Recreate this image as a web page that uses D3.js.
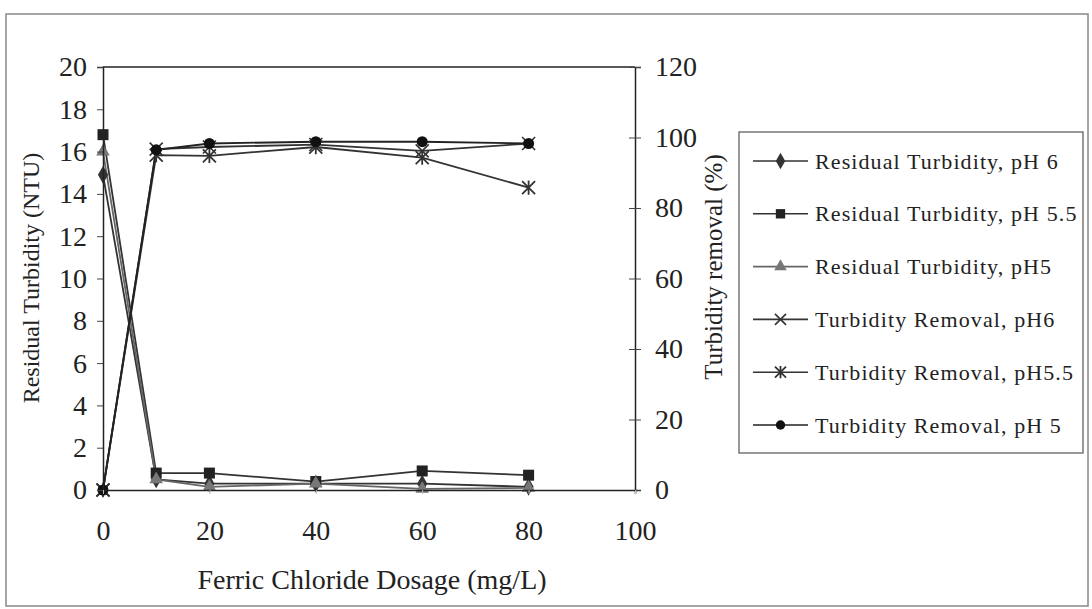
<!DOCTYPE html>
<html><head><meta charset="utf-8">
<script src="https://cdn.jsdelivr.net/npm/d3@7/dist/d3.min.js"></script>
<style>body{margin:0;background:#fff}svg{display:block}text{font-family:"Liberation Serif","Times New Roman",serif;fill:#222}</style>
</head><body><svg id="c" width="1092" height="609"></svg>
<script>
const dosage = [0, 10, 20, 40, 60, 80];
const residualPH6 = [14.9, 0.5, 0.3, 0.3, 0.3, 0.15];
const residualPH55 = [16.8, 0.8, 0.8, 0.4, 0.9, 0.7];
const residualPH5 = [16.0, 0.5, 0.15, 0.3, 0.05, 0.1];
const removalPH6 = [0, 96.7, 97.3, 98.0, 96.2, 98.3];
const removalPH55 = [0, 95.0, 94.8, 97.3, 94.3, 85.8];
const removalPH5 = [0, 96.5, 98.3, 98.8, 98.8, 98.3];
const xTicks = [0, 20, 40, 60, 80, 100];
const yLeftTicks = [0, 2, 4, 6, 8, 10, 12, 14, 16, 18, 20];
const yRightTicks = [0, 20, 40, 60, 80, 100, 120];
const legendLabels = ["Residual Turbidity, pH 6", "Residual Turbidity, pH 5.5", "Residual Turbidity, pH5",
  "Turbidity Removal, pH6", "Turbidity Removal, pH5.5", "Turbidity Removal, pH 5"];

const svg = d3.select("#c");
const L = 103, R = 635, T = 67, B = 490;
const x = d3.scaleLinear().domain([0, 100]).range([L, R]);
const yL = d3.scaleLinear().domain([0, 20]).range([B, T]);
const yR = d3.scaleLinear().domain([0, 120]).range([B, T]);

// outer frame
svg.append("rect").attr("x", 6).attr("y", 14).attr("width", 1082).attr("height", 592)
  .attr("fill", "none").attr("stroke", "#888").attr("stroke-width", 1.5);

// plot frame top
svg.append("line").attr("x1", L).attr("x2", R).attr("y1", T).attr("y2", T).attr("stroke", "#222").attr("stroke-width", 1.5);

const series = [
  {vals: residualPH6, y: yL, sym: "diamond", color: "#333", mfill: "#333"},
  {vals: residualPH55, y: yL, sym: "square", color: "#333", mfill: "#222"},
  {vals: residualPH5, y: yL, sym: "triangle", color: "#666", mfill: "#777"},
  {vals: removalPH6, y: yR, sym: "x", color: "#333", mfill: "none"},
  {vals: removalPH55, y: yR, sym: "star", color: "#333", mfill: "none"},
  {vals: removalPH5, y: yR, sym: "circle", color: "#222", mfill: "#111"}
];

function drawMarker(g, sym, cx, cy, color, fill, s) {
  s = s || 1;
  if (sym === "diamond") g.append("path").attr("d", d3.symbol(d3.symbolDiamond, 90 * s)()).attr("transform", `translate(${cx},${cy})`).attr("fill", fill);
  else if (sym === "square") g.append("rect").attr("x", cx - 5.5 * s).attr("y", cy - 5.5 * s).attr("width", 11 * s).attr("height", 11 * s).attr("fill", fill);
  else if (sym === "triangle") g.append("path").attr("d", d3.symbol(d3.symbolTriangle, 80 * s)()).attr("transform", `translate(${cx},${cy})`).attr("fill", fill);
  else if (sym === "circle") g.append("circle").attr("cx", cx).attr("cy", cy).attr("r", 5.5 * s).attr("fill", fill);
  else if (sym === "x") {
    const r = 6.5 * s;
    g.append("path").attr("d", `M${cx - r},${cy - r}L${cx + r},${cy + r}M${cx - r},${cy + r}L${cx + r},${cy - r}`).attr("stroke", color).attr("stroke-width", 1.6);
  } else if (sym === "star") {
    const r = 6.5 * s;
    g.append("path").attr("d", `M${cx - r},${cy - r}L${cx + r},${cy + r}M${cx - r},${cy + r}L${cx + r},${cy - r}M${cx},${cy - r * 1.1}L${cx},${cy + r * 1.1}`).attr("stroke", color).attr("stroke-width", 1.8);
  }
}

const plot = svg.append("g");
series.forEach(s => {
  const line = d3.line().x((d, i) => x(dosage[i])).y(d => s.y(d));
  plot.append("path").datum(s.vals).attr("d", line).attr("fill", "none").attr("stroke", s.color).attr("stroke-width", 1.8);
});
series.forEach(s => {
  s.vals.forEach((v, i) => drawMarker(plot, s.sym, x(dosage[i]), s.y(v), s.color, s.mfill));
});

// axes
const axL = svg.append("g").attr("transform", `translate(${L},0)`).call(d3.axisLeft(yL).tickValues(yLeftTicks).tickSize(6).tickPadding(10).tickFormat(d3.format("d")));
const axR = svg.append("g").attr("transform", `translate(${R},0)`).call(d3.axisRight(yR).tickValues(yRightTicks).tickSize(6).tickPadding(14).tickFormat(d3.format("d")));
axR.selectAll(".tick line").attr("x1", -6);
const axB = svg.append("g").attr("transform", `translate(0,${B})`).call(d3.axisBottom(x).tickValues(xTicks).tickSize(4).tickPadding(26).tickFormat(d3.format("d")));
[axL, axR, axB].forEach(a => {
  a.select(".domain").attr("stroke", "#222").attr("stroke-width", 1.5);
  a.selectAll(".tick line").attr("stroke", "#444");
  a.selectAll(".tick text").attr("font-family", "Liberation Serif, serif").attr("font-size", 28).attr("fill", "#222");
});
axB.selectAll(".tick line").attr("stroke", "#bbb");

// axis titles
svg.append("text").attr("x", 372).attr("y", 589).attr("text-anchor", "middle").attr("font-size", 28).text("Ferric Chloride Dosage (mg/L)");
svg.append("text").attr("transform", "translate(39,278) rotate(-90)").attr("text-anchor", "middle").attr("font-size", 24).text("Residual Turbidity (NTU)");
svg.append("text").attr("transform", "translate(722,267) rotate(-90)").attr("text-anchor", "middle").attr("font-size", 25).text("Turbidity removal (%)");

// legend
const lg = svg.append("g");
lg.append("rect").attr("x", 739).attr("y", 132).attr("width", 344).attr("height", 321).attr("fill", "#fff").attr("stroke", "#555").attr("stroke-width", 1.2);
series.forEach((s, i) => {
  const cy = 161 + i * 52.8;
  lg.append("line").attr("x1", 753).attr("x2", 808).attr("y1", cy).attr("y2", cy).attr("stroke", s.color).attr("stroke-width", 1.6);
  drawMarker(lg, s.sym, 780.5, cy, s.color, s.mfill, 0.85);
  lg.append("text").attr("x", 815).attr("y", cy + 7.5).attr("font-size", 22).attr("letter-spacing", 1.1).text(legendLabels[i]);
});
</script></body></html>
